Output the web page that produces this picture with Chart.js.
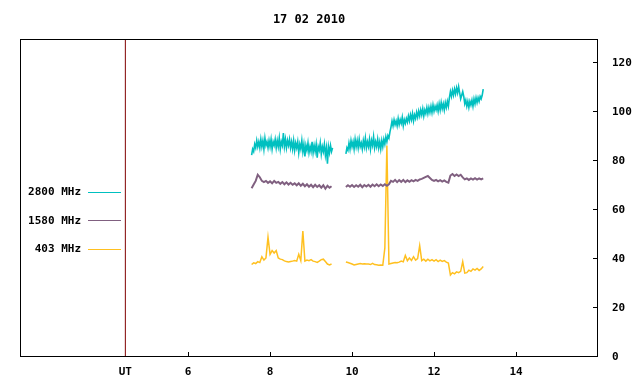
<!DOCTYPE html>
<html>
<head>
<meta charset="utf-8">
<script src="https://cdn.jsdelivr.net/npm/chart.js@4/dist/chart.umd.min.js"></script>
<style>
  html, body { margin: 0; padding: 0; background: #fff; }
  #wrap { width: 640px; height: 384px; }
</style>
</head>
<body>
<div id="wrap"><canvas id="chart" width="640" height="384"></canvas></div>
<script>
const titleText = '17 02 2010'
const labels = ['2800 MHz', '1580 MHz', '403 MHz']
const colors = ['rgb(0,192,192)', 'rgb(128,96,128)', 'rgb(255,192,32)']

// all series start at 7.55 UT, null = no data
const startHour = 7.55
const step2800 = 0.025
const stepLow = 0.05

const mhz2800 = [
  82.5, 85, 84, 87, 85.5, 88.5, 86, 88, 85.5, 89,
  86, 88.5, 85, 89.5, 86.5, 88, 85.5, 88.5, 86, 89,
  85, 88, 86.5, 89, 85.5, 88.5, 86, 89.5, 85, 88,
  86.5, 91.5, 86, 89, 85.5, 88.5, 86.5, 89, 85.5, 88,
  85, 88.5, 84.5, 87.5, 85.5, 88, 83.5, 87, 85, 88.5,
  84, 87, 82, 86.5, 84.5, 87.5, 83.5, 86, 84, 88,
  83.5, 86.5, 84, 87, 81.5, 86, 84.5, 87.5, 83, 86,
  84, 87, 82.5, 85.5, 79, 86, 83.5, 86.5, 84, 85.5,
  null, null, null, null, null, null, null, null, null, null, null, null,
  83, 85.5, 84.5, 87.5, 85, 88.5, 86, 88, 85, 89,
  86, 88.5, 85.5, 89, 86, 87.5, 85, 88.5, 86, 89.5,
  85.5, 88, 86, 89, 85, 88.5, 86.5, 90, 85.5, 88,
  86, 89, 85.5, 88, 85, 88.5, 86, 89, 87, 90,
  88, 90.5, 89.5, 92, 94, 96.5, 94.5, 97, 95, 96.5,
  94.5, 97.5, 95, 97, 95.5, 98, 94.5, 97, 95.5, 97.5,
  96, 98.5, 96.5, 99, 97, 99.5, 96.5, 99, 97.5, 100,
  98, 100.5, 98.5, 101, 99, 101.5, 98.5, 101, 99.5, 102,
  99.5, 102, 100, 102.5, 100, 103, 100.5, 102.5, 101, 103,
  100.5, 103.5, 101, 104, 101.5, 103.5, 101, 104, 102, 104.5,
  102.5, 106, 108.5, 106.5, 109, 107, 109.5, 107.5, 110, 108,
  110.5, 108, 105.5, 107, 108.5, 106.5, 103.5, 105, 102.5, 104.5,
  102, 104.5, 103, 105, 102.5, 105.5, 103.5, 106, 104, 106,
  104.5, 106.5, 105.5, 107, 109.5
]

const mhz1580 = [
  69, 70.5, 72, 74.5, 73.5, 72, 71.5, 72, 71.2, 71.8,
  71, 72, 71.2, 71.6, 70.8, 71.5, 70.6, 71.4, 70.5, 71.2,
  70.4, 71, 70.2, 71, 70, 70.8, 69.8, 70.6, 69.6, 70.4,
  69.4, 70.4, 69.5, 70.2, 69.2, 70.2, 68.8, 70, 69.2, 69.8,
  null, null, null, null, null, null,
  69.5, 70.2, 69.6, 70.3, 69.5, 70.2, 69.6, 70.4, 69.4, 70.3,
  69.7, 70.4, 69.6, 70.5, 69.8, 70.6, 69.8, 70.5, 69.9, 70.6,
  70, 70.6, 72, 71.6, 72.4, 71.5, 72.3, 71.6, 72.4, 71.5,
  72.2, 71.6, 72.3, 71.8, 72.4, 72, 72.6, 72.8, 73.2, 73.6,
  74, 73.2, 72.4, 72, 72.4, 71.8, 72.3, 71.7, 72.2, 71.6,
  71.3, 74.2, 74.8, 74, 74.6, 74, 74.5, 73.4, 72.6, 73,
  72.4, 73, 72.5, 73.1, 72.5, 73, 72.6, 73
]

const mhz403 = [
  37.8, 38.5, 38.2, 39, 38.6, 41, 39.6, 40.5, 49, 42,
  43.5, 42.5, 43.5, 40.5, 40, 39.8, 39.3, 39, 38.8, 39,
  39.2, 39.4, 39.2, 42, 39.4, 51.5, 39.2, 39.6, 39.4, 39.8,
  39.2, 39, 38.7, 39.2, 39.8, 40, 39, 38, 37.6, 38,
  null, null, null, null, null, null,
  38.8, 38.6, 38.3, 38, 37.6, 37.8, 38, 38.2, 38, 38.1,
  38, 38, 37.8, 38.3, 37.8, 37.7, 37.5, 37.6, 37.5, 44.5,
  86.5, 38, 38.2, 38.4, 38.6, 38.5, 38.8, 39.2, 38.9, 41.5,
  39.4, 40.5, 39.5, 41, 39.6, 40.2, 45.5, 39.4, 40, 39.2,
  40, 39.3, 39.8, 39.2, 39.8, 39, 39.6, 39.1, 39.4, 38.8,
  38.4, 33.5, 34.5, 34, 34.8, 34.5, 35, 39, 34.3, 34.5,
  35.5, 35, 36, 35.5, 36.2, 35.4, 36, 37
]

const utMark = 4.47
const xTicks = [utMark, 6, 8, 10, 12, 14]
const yTicks = [0, 20, 40, 60, 80, 100, 120]

function to_points(values, step) {
    return values.map((v, i) => ({x: +(startHour + i * step).toFixed(3), y: v}))
}

function make_dataset(label, color, values, step, width) {
    return {
        label: label,
        data: to_points(values, step),
        borderColor: color,
        backgroundColor: color,
        borderWidth: width,
        pointRadius: 0,
        tension: 0,
        spanGaps: false
    }
}

const font = {family: '"DejaVu Sans Mono", monospace', size: 11, weight: 'bold'}

// frame, inward tick marks and the left-hand legend
const framePlugin = {
    id: 'frame',
    afterDraw(chart) {
        const ctx = chart.ctx
        const a = chart.chartArea
        const xs = chart.scales.x
        const ys = chart.scales.y
        ctx.save()
        ctx.strokeStyle = '#000'
        ctx.lineWidth = 1
        ctx.strokeRect(Math.round(a.left) + 0.5, Math.round(a.top) + 0.5,
            Math.round(a.right - a.left) - 1, Math.round(a.bottom - a.top) - 1)
        ctx.beginPath()
        xTicks.forEach(t => {
            if (t === utMark) return
            const px = Math.round(xs.getPixelForValue(t)) + 0.5
            ctx.moveTo(px, a.bottom)
            ctx.lineTo(px, a.bottom - 5)
        })
        yTicks.forEach(t => {
            const py = Math.round(ys.getPixelForValue(t)) - 0.5
            ctx.moveTo(a.right, py)
            ctx.lineTo(a.right - 5, py)
        })
        ctx.stroke()

        ctx.font = 'bold 11px "DejaVu Sans Mono", monospace'
        ctx.textAlign = 'right'
        ctx.textBaseline = 'middle'
        chart.data.datasets.forEach((ds, i) => {
            if (!labels.includes(ds.label)) return
            const y = 191.5 + i * 28.5
            ctx.fillStyle = '#000'
            ctx.fillText(ds.label, 81, y + 1)
            ctx.strokeStyle = ds.borderColor
            ctx.lineWidth = 1
            ctx.beginPath()
            ctx.moveTo(88, Math.round(y) + 0.5)
            ctx.lineTo(121, Math.round(y) + 0.5)
            ctx.stroke()
        })
        ctx.restore()
    }
}

const datasets = [
    make_dataset(labels[0], colors[0], mhz2800, step2800, 1.6),
    make_dataset(labels[1], colors[1], mhz1580, stepLow, 2),
    make_dataset(labels[2], colors[2], mhz403, stepLow, 1.5),
    {
        label: 'UT line',
        data: [{x: utMark, y: 0}, {x: utMark, y: 130}],
        borderColor: 'rgb(128,0,0)',
        borderWidth: 1,
        pointRadius: 0
    }
]

new Chart(document.getElementById('chart'), {
    type: 'line',
    data: {datasets: datasets},
    plugins: [framePlugin],
    options: {
        responsive: false,
        animation: false,
        layout: {padding: {left: 20, right: 0, top: 0, bottom: 0}},
        plugins: {
            legend: {display: false},
            tooltip: {enabled: false},
            title: {
                display: true,
                text: titleText,
                fullSize: false,
                color: '#000',
                font: {family: font.family, size: 12, weight: 'bold', lineHeight: 1},
                padding: {top: 14, bottom: 13}
            }
        },
        scales: {
            x: {
                type: 'linear',
                position: 'bottom',
                min: 1.9,
                max: 16,
                afterBuildTicks: s => { s.ticks = xTicks.map(v => ({value: v})) },
                afterFit: s => { s.height = 27 },
                grid: {display: false},
                border: {display: false},
                ticks: {
                    color: '#000',
                    font: font,
                    padding: 1,
                    maxRotation: 0,
                    autoSkip: false,
                    callback: v => v === utMark ? 'UT' : String(v)
                }
            },
            y: {
                type: 'linear',
                position: 'right',
                min: 0,
                max: 130,
                afterBuildTicks: s => { s.ticks = yTicks.map(v => ({value: v})) },
                afterFit: s => { s.width = 42 },
                grid: {display: false},
                border: {display: false},
                ticks: {
                    color: '#000',
                    font: font,
                    padding: 6,
                    crossAlign: 'near',
                    callback: v => String(v)
                }
            }
        }
    }
})
</script>
</body>
</html>
